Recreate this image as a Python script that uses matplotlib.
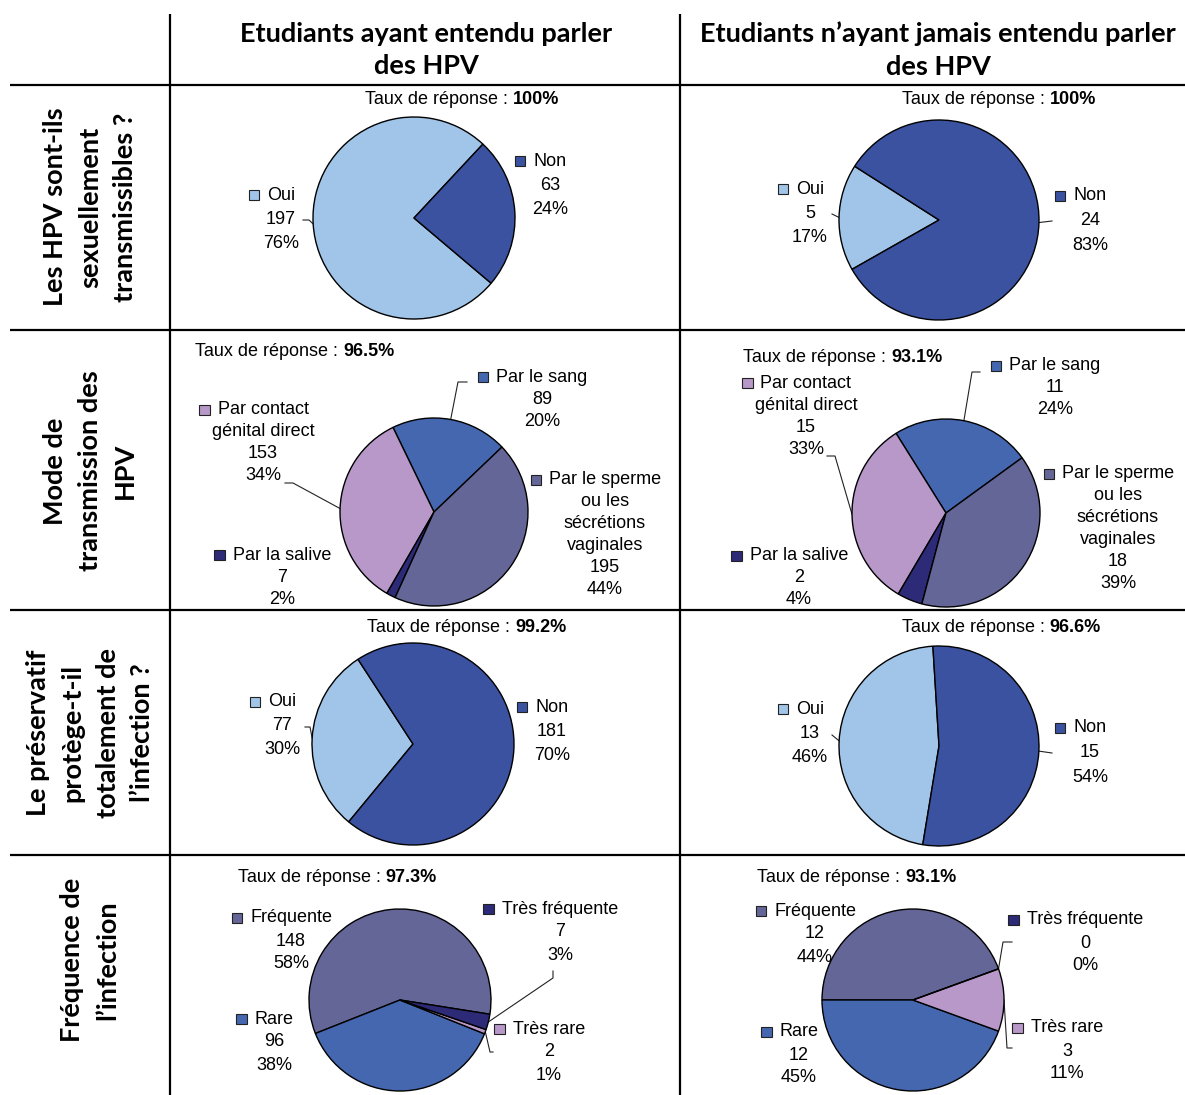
import matplotlib
matplotlib.use("Agg")
import matplotlib.pyplot as plt
from matplotlib.patches import Rectangle
from matplotlib.offsetbox import AnnotationBbox, DrawingArea
import numpy as np

W, H = 1185, 1095

col_headers = ["Etudiants ayant entendu parler\ndes HPV",
               "Etudiants n’ayant jamais entendu parler\ndes HPV"]
row_headers = ["Les HPV sont-ils\nsexuellement\ntransmissibles ?",
               "Mode de\ntransmission des\nHPV",
               "Le préservatif\nprotège-t-il\ntotalement de\nl’infection ?",
               "Fréquence de\nl’infection"]

# Q1 - sexuellement transmissibles ?
q1_cats = ["Oui", "Non"]
q1_heard = [197, 63]
q1_heard_pct = [76, 24]
q1_never = [5, 24]
q1_never_pct = [17, 83]
q1_rates = ["100%", "100%"]

# Q2 - mode de transmission
q2_cats = ["Par le sang", "Par contact\ngénital direct", "Par la salive",
           "Par le sperme\nou les\nsécrétions\nvaginales"]
q2_heard = [89, 153, 7, 195]
q2_heard_pct = [20, 34, 2, 44]
q2_never = [11, 15, 2, 18]
q2_never_pct = [24, 33, 4, 39]
q2_rates = ["96.5%", "93.1%"]

# Q3 - preservatif
q3_cats = ["Oui", "Non"]
q3_heard = [77, 181]
q3_heard_pct = [30, 70]
q3_never = [13, 15]
q3_never_pct = [46, 54]
q3_rates = ["99.2%", "96.6%"]

# Q4 - frequence de l'infection
q4_cats = ["Fréquente", "Rare", "Très rare", "Très fréquente"]
q4_heard = [148, 96, 2, 7]
q4_heard_pct = [58, 38, 1, 3]
q4_never = [12, 12, 3, 0]
q4_never_pct = [44, 45, 11, 0]
q4_rates = ["97.3%", "93.1%"]

LIGHT = "#a1c5e8"
DARK = "#3a52a0"
BLUE = "#4567b0"
LILAC = "#b898c8"
NAVY = "#2d2a78"
SLATE = "#656698"

q1_colors = [LIGHT, DARK]
q2_colors = [BLUE, LILAC, NAVY, SLATE]
q3_colors = [LIGHT, DARK]
q4_colors = [SLATE, BLUE, LILAC, NAVY]

plt.rcParams["font.family"] = ["Liberation Sans", "DejaVu Sans"]
FS = 13
HEAD_FONT = "Lato"
HEAD_FS = 19.5


def fy(y):
    return H - y


# layout of each panel: centre, radius, start angle, label anchors, line pitch,
# title position, leader elbows (pixel coords, y down)
panels = [
    dict(vals=q1_heard, pct=q1_heard_pct, cats=q1_cats, colors=q1_colors, rate=q1_rates[0],
         c=(414, 218), r=101, start=47, pitch=24.5, title=(365, 100),
         lab=[(281, 195), (550, 161)], lead={0: [(309, 220), (303, 220)]}),
    dict(vals=q1_never, pct=q1_never_pct, cats=q1_cats, colors=q1_colors, rate=q1_rates[1],
         c=(939, 220), r=100, start=147.5, pitch=24.5, title=(902, 100),
         lab=[(810, 189), (1090, 196)], lead={0: [(832, 214)], 1: [(1052, 221)]}),
    dict(vals=q2_heard, pct=q2_heard_pct, cats=q2_cats, colors=q2_colors, rate=q2_rates[0],
         c=(434, 512), r=94, start=43.7, pitch=22, title=(195, 351),
         lab=[(542, 377), (263, 410), (282, 555), (605, 480)],
         lead={0: [(458, 382), (467, 382)], 1: [(293, 483), (285, 483)]}),
    dict(vals=q2_never, pct=q2_never_pct, cats=q2_cats, colors=q2_colors, rate=q2_rates[1],
         c=(946, 513), r=94, start=36, pitch=22, title=(743, 357),
         lab=[(1055, 366), (806, 383), (799, 556), (1118, 474)],
         lead={0: [(972, 372), (980, 372)], 1: [(835, 456), (827, 456)]}),
    dict(vals=q3_heard, pct=q3_heard_pct, cats=q3_cats, colors=q3_colors, rate=q3_rates[0],
         c=(413, 744), r=101, start=123, pitch=24, title=(367, 628),
         lab=[(282, 702), (552, 707)], lead={0: [(310, 727), (305, 727)]}),
    dict(vals=q3_never, pct=q3_never_pct, cats=q3_cats, colors=q3_colors, rate=q3_rates[1],
         c=(939, 746), r=100, start=93.5, pitch=24.5, title=(902, 628),
         lab=[(810, 709), (1090, 728)], lead={0: [(832, 735)], 1: [(1052, 753)]}),
    dict(vals=q4_heard, pct=q4_heard_pct, cats=q4_cats, colors=q4_colors, rate=q4_rates[0],
         c=(400, 1000), r=91, start=351, pitch=23, title=(238, 878),
         lab=[(291, 918), (274, 1019), (549, 1029), (560, 909)],
         lead={2: [(490, 1052), (493, 1052)], 3: [(553, 978), (553, 971)]}),
    dict(vals=q4_never, pct=q4_never_pct, cats=q4_cats, colors=q4_colors, rate=q4_rates[1],
         c=(913, 1000), r=91, start=20, pitch=23, title=(757, 877),
         lab=[(815, 911), (799, 1032), (1067, 1028), (1085, 920)],
         lead={2: [(1007, 1048), (1012, 1048)], 3: [(1003, 942), (1012, 942)]}),
]

fig = plt.figure(figsize=(W / 100, H / 100), dpi=100)
ax = fig.add_axes([0, 0, 1, 1])

# table borders
for y in [85, 330, 610, 855]:
    ax.plot([10, W], [fy(y), fy(y)], color="black", lw=1.6, solid_capstyle="butt")
for x in [170, 680]:
    ax.plot([x, x], [fy(14), fy(H + 5)], color="black", lw=1.6, solid_capstyle="butt")

# column and row headers
for x, txt in zip([426, 938], col_headers):
    ax.text(x, fy(50), txt, ha="center", va="center", family=HEAD_FONT,
            fontweight="bold", fontsize=HEAD_FS, linespacing=1.42)
for y, txt in zip([207, 471, 733, 960], row_headers):
    ax.text(90, fy(y), txt, ha="center", va="center", rotation=90, family=HEAD_FONT,
            fontweight="bold", fontsize=HEAD_FS, linespacing=1.55, multialignment="center")


def square_marker(text_artist, color):
    da = DrawingArea(7.5, 7.5, 0, 0)
    da.add_artist(Rectangle((0, 0), 7.5, 7.5, facecolor=color, edgecolor="#222222", lw=0.8))
    ab = AnnotationBbox(da, (0, 0.5), xycoords=text_artist, xybox=(-8, 0),
                        boxcoords="offset pixels", box_alignment=(1, 0.5), frameon=False, pad=0)
    ax.add_artist(ab)


for p in panels:
    cx, cy = p["c"]
    wedges, _ = ax.pie(p["vals"], colors=p["colors"], startangle=p["start"], counterclock=True,
                       radius=p["r"], center=(cx, fy(cy)),
                       wedgeprops=dict(edgecolor="black", linewidth=1.0, zorder=3))
    # response rate
    tx, ty = p["title"]
    t = ax.text(tx, fy(ty), "Taux de réponse : ", ha="left", va="center", fontsize=FS)
    ax.annotate(p["rate"], xy=(1, 0), xycoords=t, ha="left", va="bottom",
                fontsize=FS, fontweight="bold")
    # category labels
    for i, cat in enumerate(p["cats"]):
        lx, ly = p["lab"][i]
        lines = cat.split("\n") + [str(p["vals"][i]), f"{p['pct'][i]}%"]
        first = ax.text(lx, fy(ly), lines[0], ha="center", va="center", fontsize=FS, zorder=2)
        for k, s in enumerate(lines[1:], 1):
            ax.text(lx, fy(ly + k * p["pitch"]), s, ha="center", va="center",
                    fontsize=FS, zorder=2)
        square_marker(first, p["colors"][i])
        if i in p["lead"]:
            w = wedges[i]
            th = np.deg2rad((w.theta1 + w.theta2) / 2)
            xs = [cx + p["r"] * np.cos(th)] + [e[0] for e in p["lead"][i]]
            ys = [fy(cy) + p["r"] * np.sin(th)] + [fy(e[1]) for e in p["lead"][i]]
            ax.plot(xs, ys, color="#222222", lw=0.8, zorder=2)

ax.set_aspect("auto")
ax.set_xlim(0, W)
ax.set_ylim(0, H)
ax.axis("off")

fig.savefig("out.png", dpi=100, facecolor="white")
